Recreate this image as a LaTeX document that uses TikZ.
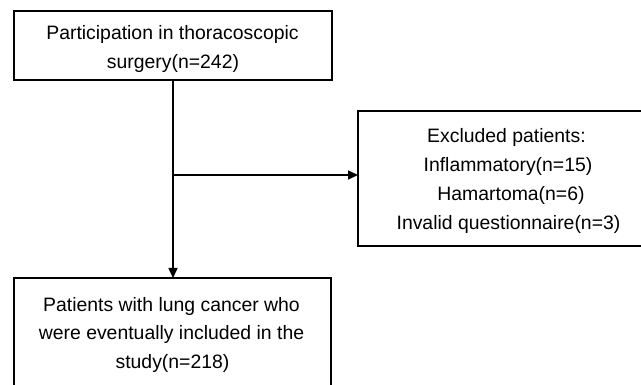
\documentclass[tikz,border=0pt]{standalone}
\usepackage{fontspec}
\setmainfont{Liberation Sans}
\usetikzlibrary{arrows.meta}
\begin{document}
\begin{tikzpicture}[x=1pt,y=-1pt,
  boxnode/.style={draw=black,line width=2.6pt,rectangle,inner sep=0pt,outer sep=0pt},
  txt/.style={anchor=base,inner sep=0pt,font=\fontsize{19.4}{23}\selectfont,text=black},
  arr/.style={line width=1.5pt,-{Triangle[length=10pt,width=9pt]}}]
\useasboundingbox[fill=white] (0,0) rectangle (641,385);
\node[boxnode,minimum width=318pt,minimum height=69pt] (top) at (173,45.5) {};
\node[boxnode,minimum width=317pt,minimum height=130pt] (bot) at (172.5,343) {};
\node[boxnode,minimum width=302pt,minimum height=135pt] (ex) at (509,178.5) {};
% texts
\node[txt] (t1) at (172.5,39.5) {Participation in thoracoscopic};
\node[txt] (t2) at (173,69) {surgery(n=242)};
\node[txt] (e1) at (506.5,143) {Excluded patients:};
\node[txt] (e2) at (508,172) {Inflammatory(n=15)};
\node[txt] (e3) at (511,201) {Hamartoma(n=6)};
\node[txt] (e4) at (508.5,230) {Invalid questionnaire(n=3)};
\node[txt] (b1) at (171.5,312) {Patients with lung cancer who};
\node[txt] (b2) at (171.5,340) {were eventually included in the};
\node[txt] (b3) at (172.5,368) {study(n=218)};
% connectors
\draw[arr] (top.south) -- (top.south |- bot.north);
\coordinate (j) at (173,175);
\draw[arr] (j) -- (j -| ex.west);
\end{tikzpicture}
\end{document}
